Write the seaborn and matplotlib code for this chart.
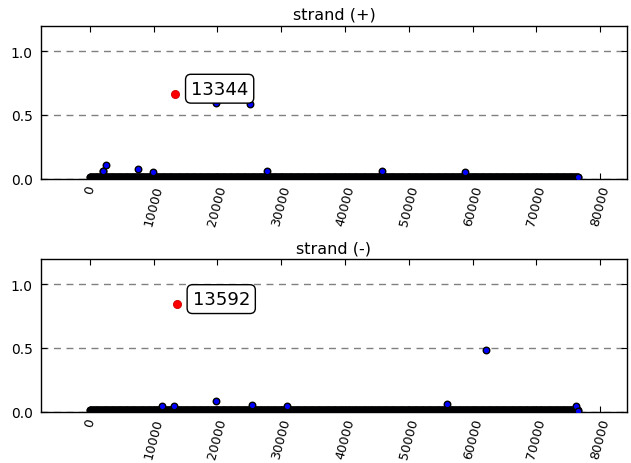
import numpy as np
import pandas as pd
import matplotlib
matplotlib.use("Agg")
import matplotlib.pyplot as plt
import seaborn as sns

# ---- data ----
n_positions = 76550          # length of the sequence (x-axis extent)
band_level = 0.013           # nearly all positions sit at ~0.01

plus_out_x = [2000, 2090, 2460, 7580, 9900, 19765, 25150, 27800, 45850, 58800, 76500]
plus_out_y = [0.060, 0.058, 0.108, 0.076, 0.050, 0.597, 0.586, 0.058, 0.060, 0.050, 0.012]
plus_hit_x = [13344]
plus_hit_y = [0.667]
plus_label = "13344"

minus_out_x = [11300, 13200, 19760, 25360, 30850, 56050, 62160, 76190, 76550]
minus_out_y = [0.040, 0.040, 0.081, 0.052, 0.044, 0.057, 0.483, 0.044, 0.004]
minus_hit_x = [13592]
minus_hit_y = [0.845]
minus_label = "13592"

titles = ["strand (+)", "strand (-)"]
yticks = [0.0, 0.5, 1.0]
xticks = [0, 10000, 20000, 30000, 40000, 50000, 60000, 70000, 80000]

# ---- style ----
sns.set_style("white")
plt.rcParams["font.family"] = ["DejaVu Sans"]
plt.rcParams.update({"text.color": "black", "axes.labelcolor": "black",
                     "xtick.color": "black", "ytick.color": "black"})

fig = plt.figure(figsize=(6.31, 4.64), dpi=100)
W, H = 631, 464
ax_top = fig.add_axes([41 / W, 1 - 179.7 / H, (627 - 41) / W, (179.7 - 26.8) / H])
ax_bot = fig.add_axes([41 / W, 1 - 412.5 / H, (627 - 41) / W, (412.5 - 260) / H])

band_x = np.arange(0, n_positions, 100)
band_y = np.full(band_x.shape, band_level)

panels = [
    (ax_top, plus_out_x, plus_out_y, plus_hit_x, plus_hit_y, plus_label, titles[0]),
    (ax_bot, minus_out_x, minus_out_y, minus_hit_x, minus_hit_y, minus_label, titles[1]),
]

for ax, ox, oy, hx, hy, lab, title in panels:
    df = pd.DataFrame({"pos": np.concatenate([band_x, ox]),
                       "val": np.concatenate([band_y, oy])})
    sns.scatterplot(data=df, x="pos", y="val", ax=ax, color="#0000ff",
                    edgecolor="black", linewidth=1.0, s=22, zorder=3)
    hd = pd.DataFrame({"pos": hx, "val": hy})
    sns.scatterplot(data=hd, x="pos", y="val", ax=ax, color="#ff0000",
                    edgecolor="#cc0000", linewidth=0.6, s=34, zorder=4)
    ax.annotate(lab, xy=(hx[0], hy[0]), xytext=(16, 5), textcoords="offset pixels",
                ha="left", va="center", fontsize=13, color="black", zorder=6,
                bbox=dict(boxstyle="round,pad=0.3", fc="white", ec="black", lw=1.0))
    ax.set_xlim(-0.1 * n_positions, 1.1 * n_positions)
    ax.set_ylim(0, 1.2)
    ax.set_yticks(yticks)
    ax.set_xticks(xticks)
    ax.set_xticklabels([str(t) for t in xticks], rotation=75, ha="center", fontsize=9.3)
    ax.set_xlabel("")
    ax.set_ylabel("")
    ax.set_title(title, fontsize=11.5, pad=5, color="black")
    ax.yaxis.grid(True, linestyle=(0, (5, 4)), color="#808080", linewidth=1.0)
    ax.set_axisbelow(True)
    ax.tick_params(axis="both", direction="in", length=4, width=0.8,
                   top=True, right=True, bottom=True, left=True, color="black",
                   labelcolor="black")
    ax.tick_params(axis="y", labelsize=10, pad=6)
    ax.tick_params(axis="x", pad=3.5)
    for sp in ax.spines.values():
        sp.set_visible(True)
        sp.set_color("black")
        sp.set_linewidth(1.0)

fig.savefig("out.png", dpi=100)
